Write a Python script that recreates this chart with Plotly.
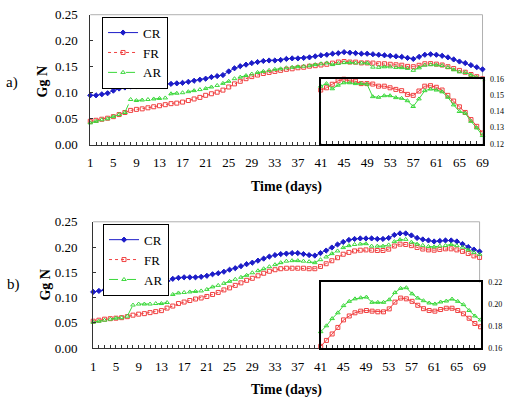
import plotly.graph_objects as go

days = list(range(1, 70))
x_tick_vals = list(range(1, 70, 4))
series_names = ["CR", "FR", "AR"]

cr_a = [0.095, 0.095, 0.097, 0.099, 0.104, 0.108, 0.110, 0.112, 0.113, 0.114,
        0.114, 0.115, 0.1155, 0.116, 0.117, 0.118, 0.119, 0.121, 0.123, 0.125,
        0.127, 0.130, 0.132, 0.134, 0.141, 0.147, 0.151, 0.154, 0.157, 0.159,
        0.161, 0.162, 0.162, 0.163, 0.165, 0.166, 0.166, 0.167, 0.168, 0.170,
        0.172, 0.173, 0.175, 0.176, 0.178, 0.177, 0.176, 0.175, 0.175, 0.174,
        0.173, 0.172, 0.171, 0.170, 0.169, 0.167, 0.165, 0.169, 0.173, 0.174,
        0.173, 0.171, 0.168, 0.164, 0.160, 0.157, 0.153, 0.149, 0.145]
fr_a = [0.045, 0.047, 0.049, 0.051, 0.054, 0.058, 0.062, 0.066, 0.068, 0.069,
        0.071, 0.073, 0.075, 0.077, 0.079, 0.080, 0.082, 0.085, 0.088, 0.091,
        0.095, 0.098, 0.101, 0.105, 0.111, 0.117, 0.122, 0.127, 0.131, 0.134,
        0.137, 0.139, 0.141, 0.143, 0.145, 0.146, 0.148, 0.149, 0.151, 0.152,
        0.1533, 0.1547, 0.1569, 0.1590, 0.1600, 0.1590, 0.1588, 0.1573, 0.1573, 0.1570,
        0.1557, 0.1557, 0.1547, 0.1537, 0.1529, 0.1506, 0.1500, 0.1527, 0.1557, 0.1560,
        0.1550, 0.1533, 0.1500, 0.1465, 0.1429, 0.1394, 0.1350, 0.1308, 0.1267]
ar_a = [0.042, 0.045, 0.048, 0.050, 0.054, 0.058, 0.062, 0.087, 0.085, 0.086,
        0.087, 0.088, 0.089, 0.090, 0.098, 0.099, 0.100, 0.102, 0.104, 0.106,
        0.108, 0.111, 0.114, 0.118, 0.122, 0.127, 0.130, 0.133, 0.136, 0.139,
        0.141, 0.143, 0.145, 0.146, 0.148, 0.149, 0.150, 0.151, 0.152, 0.154,
        0.1557, 0.1573, 0.1541, 0.1563, 0.1578, 0.1578, 0.1573, 0.1573, 0.1570, 0.1492,
        0.1488, 0.1498, 0.1498, 0.1486, 0.1482, 0.1467, 0.1431, 0.1478, 0.1529, 0.1539,
        0.1533, 0.1522, 0.1488, 0.1441, 0.1400, 0.1390, 0.1339, 0.1298, 0.1251]

cr_b = [0.111, 0.113, 0.115, 0.116, 0.117, 0.118, 0.119, 0.120, 0.121, 0.121,
        0.122, 0.123, 0.126, 0.132, 0.137, 0.139, 0.140, 0.140, 0.140, 0.141,
        0.143, 0.146, 0.148, 0.151, 0.155, 0.158, 0.162, 0.166, 0.169, 0.173,
        0.177, 0.181, 0.184, 0.186, 0.187, 0.188, 0.188, 0.186, 0.184, 0.183,
        0.188, 0.193, 0.199, 0.205, 0.210, 0.214, 0.216, 0.217, 0.217, 0.217,
        0.216, 0.216, 0.218, 0.224, 0.227, 0.227, 0.223, 0.218, 0.215, 0.213,
        0.211, 0.212, 0.213, 0.213, 0.211, 0.206, 0.200, 0.195, 0.191]
fr_b = [0.053, 0.055, 0.057, 0.058, 0.059, 0.060, 0.062, 0.065, 0.067, 0.068,
        0.070, 0.072, 0.074, 0.079, 0.083, 0.088, 0.091, 0.094, 0.097, 0.099,
        0.102, 0.106, 0.110, 0.115, 0.119, 0.124, 0.129, 0.134, 0.138, 0.143,
        0.148, 0.152, 0.155, 0.157, 0.158, 0.158, 0.158, 0.158, 0.157, 0.157,
        0.1615, 0.1669, 0.1728, 0.1788, 0.1857, 0.1893, 0.1922, 0.1937, 0.1943, 0.1937,
        0.1931, 0.1931, 0.1958, 0.2020, 0.2057, 0.2050, 0.2027, 0.1991, 0.1960, 0.1943,
        0.1937, 0.1952, 0.1964, 0.1964, 0.1943, 0.1913, 0.1872, 0.1824, 0.1794]
ar_b = [0.051, 0.053, 0.055, 0.057, 0.059, 0.060, 0.063, 0.085, 0.087, 0.087,
        0.087, 0.088, 0.088, 0.090, 0.106, 0.109, 0.110, 0.111, 0.112, 0.113,
        0.116, 0.121, 0.124, 0.128, 0.132, 0.136, 0.140, 0.144, 0.149, 0.153,
        0.157, 0.161, 0.165, 0.169, 0.172, 0.173, 0.173, 0.172, 0.171, 0.169,
        0.1749, 0.1803, 0.1869, 0.1922, 0.1988, 0.2027, 0.2050, 0.2060, 0.2066, 0.2018,
        0.2018, 0.2018, 0.2042, 0.2107, 0.2146, 0.2152, 0.2096, 0.2057, 0.2033, 0.2012,
        0.2003, 0.2021, 0.2030, 0.2048, 0.2027, 0.1997, 0.1943, 0.1893, 0.1857]

inset_start = 41

W, H = 516, 407
SERIF = "Liberation Serif"
AX = "#333333"

COL = {"CR": "#1c1cc8", "FR": "#f04040", "AR": "#3ad83a"}
SYM = {"CR": "diamond", "FR": "square-open", "AR": "triangle-up-open"}
MSIZE = {"CR": 4, "FR": 4, "AR": 4}
DASH = {"CR": "solid", "FR": "dot", "AR": "dash"}


def px_x(a, b):
    return [a / W, b / W]


def px_y(top, bottom):
    return [1 - bottom / H, 1 - top / H]


fig = go.Figure()

panels = [
    dict(vals=[cr_a, fr_a, ar_a], xa="x", ya="y", ix="x3", iy="y3", legend="legend"),
    dict(vals=[cr_b, fr_b, ar_b], xa="x2", ya="y2", ix="x4", iy="y4", legend="legend2"),
]

for p in panels:
    for name, vals in zip(series_names, p["vals"]):
        fig.add_trace(go.Scatter(
            x=days, y=vals, name=name, mode="lines+markers",
            xaxis=p["xa"], yaxis=p["ya"], legend=p["legend"], cliponaxis=False,
            line=dict(color=COL[name], width=1, dash=DASH[name]),
            marker=dict(symbol=SYM[name], size=MSIZE[name],
                        color=COL[name], line=dict(color=COL[name], width=1)),
        ))
for p in panels:
    for name, vals in zip(series_names[1:], p["vals"][1:]):
        fig.add_trace(go.Scatter(
            x=days[inset_start - 1:], y=vals[inset_start - 1:], name=name,
            mode="lines+markers", showlegend=False, cliponaxis=False,
            xaxis=p["ix"], yaxis=p["iy"],
            line=dict(color=COL[name], width=1),
            marker=dict(symbol=SYM[name], size=MSIZE[name], color=COL[name],
                        line=dict(color=COL[name], width=1)),
        ))

tickfont = dict(family=SERIF, size=13, color="black")


def main_x(domain, anchor):
    return dict(domain=domain, anchor=anchor, range=[1, 69], tickvals=x_tick_vals,
                ticks="inside", ticklen=3, tickcolor=AX, showline=True, linecolor=AX,
                linewidth=1, showgrid=False, zeroline=False, tickfont=tickfont,
                ticklabelstandoff=6,
                minor=dict(ticks="inside", dtick=1, tick0=1, ticklen=3, tickcolor=AX,
                           showgrid=False))


def main_y(domain, anchor, standoff):
    return dict(domain=domain, anchor=anchor, range=[0, 0.25], dtick=0.05,
                tickformat=".2f", ticks="inside", ticklen=3, tickcolor=AX,
                showline=True, linecolor=AX, linewidth=1, showgrid=False,
                zeroline=False, tickfont=tickfont, ticklabelstandoff=standoff)


def inset_x(domain, anchor):
    return dict(domain=domain, anchor=anchor, range=[41, 69], showticklabels=False,
                ticks="inside", ticklen=3, dtick=1, tick0=41, tickcolor=AX,
                showline=True, mirror=True, linecolor="black", linewidth=2,
                showgrid=False, zeroline=False)


def inset_y(domain, anchor, rng, dt):
    return dict(domain=domain, anchor=anchor, side="right", range=rng, dtick=dt,
                tickformat=".2f", ticks="", showline=True, mirror=True,
                linecolor="black", linewidth=2, showgrid=False, zeroline=False,
                tickfont=dict(family=SERIF, size=8, color="black"),
                ticklabelstandoff=4)


legend_style = dict(xanchor="left", yanchor="top", bordercolor="black", borderwidth=1,
                    bgcolor="white", font=dict(family=SERIF, size=13, color="black"),
                    tracegroupgap=0, itemwidth=30)

fig.update_layout(
    width=W, height=H, margin=dict(l=0, r=0, t=0, b=0),
    paper_bgcolor="white", plot_bgcolor="white",
    xaxis=main_x(px_x(89, 489), "y"),
    yaxis=main_y(px_y(8, 143), "x", 9),
    xaxis2=main_x(px_x(92, 486), "y2"),
    yaxis2=main_y(px_y(223, 354), "x2", 12),
    xaxis3=inset_x(px_x(324, 489), "y3"),
    yaxis3=inset_y(px_y(75, 142), "x3", [0.12, 0.16], 0.01),
    xaxis4=inset_x(px_x(324, 487), "y4"),
    yaxis4=inset_y(px_y(286, 354), "x4", [0.16, 0.22], 0.02),
    legend=dict(x=101 / W, y=1 - 10 / H, **legend_style),
    legend2=dict(x=102 / W, y=1 - 225 / H, **legend_style),
)

# light gray plot-area frame (top and right)
for xr, yr in [("x", "y"), ("x2", "y2")]:
    fig.add_shape(type="line", xref=f"{xr} domain", yref=f"{yr} domain",
                  x0=0, x1=1, y0=1, y1=1, line=dict(color="#b0b0b0", width=1), layer="below")
    fig.add_shape(type="line", xref=f"{xr} domain", yref=f"{yr} domain",
                  x0=1, x1=1, y0=0, y1=1, line=dict(color="#b0b0b0", width=1), layer="below")

ann = [
    ("a)", 9, 78, 15, 0),
    ("b)", 11, 288, 15, 0),
    ("<b>Gg N</b>", 40, 77, 14, -90),
    ("<b>Gg N</b>", 43, 288, 14, -90),
    ("<b>Time (days)</b>", 289, 187, 14, 0),
    ("<b>Time (days)</b>", 289, 398, 14, 0),
]
for text, x, y, size, ang in ann:
    fig.add_annotation(text=text, x=x / W, y=1 - y / H, xref="paper", yref="paper",
                       showarrow=False, textangle=ang, xanchor="center", yanchor="middle",
                       font=dict(family=SERIF, size=size, color="black"))

fig.write_html("out.html")
